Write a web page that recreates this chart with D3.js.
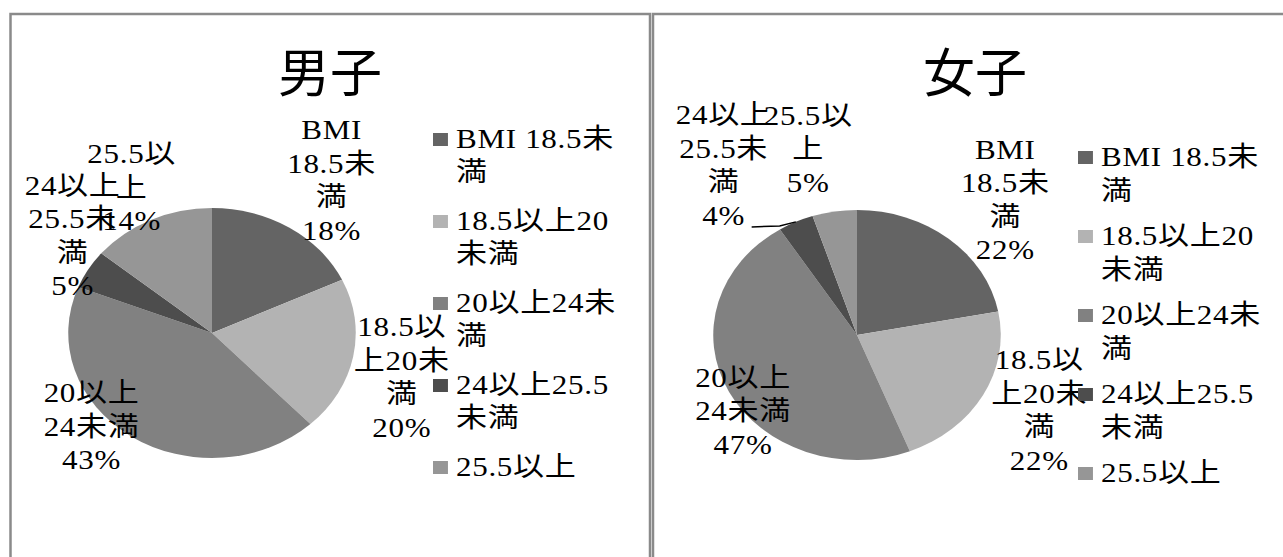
<!DOCTYPE html>
<html lang="ja">
<head>
<meta charset="UTF-8">
<title>BMI 男子・女子</title>
<script src="https://cdn.jsdelivr.net/npm/d3@7"></script>
<style>
  html, body { margin: 0; padding: 0; background: #fff; }
  svg { display: block; }
  text { font-family: "Liberation Serif", "Noto Sans CJK JP", serif; fill: #000; }
  .lbl { letter-spacing: 0.6px; }
</style>
</head>
<body>
<svg id="chart" width="1283" height="557"></svg>
<script>
// data
const categories = ["BMI 18.5未満", "18.5以上20未満", "20以上24未満", "24以上25.5未満", "25.5以上"];
const boysValues = [18, 20, 43, 5, 14];
const girlsValues = [22, 22, 47, 4, 5];
const titles = ["男子", "女子"];
// wrapped text as it appears in the picture
const legendLines = [["BMI 18.5未", "満"], ["18.5以上20", "未満"], ["20以上24未", "満"], ["24以上25.5", "未満"], ["25.5以上"]];
const labelLines = [["BMI", "18.5未", "満"], ["18.5以", "上20未", "満"], ["20以上", "24未満"], ["24以上", "25.5未", "満"], ["25.5以", "上"]];
const colors = ["#646464", "#b3b3b3", "#818181", "#4d4d4d", "#969696"];

// layout
const sx = 1.15;      // the picture is stretched horizontally
const R = 125;
const fs = 27, lh = 33.5;
const charts = [
  { title: titles[0], values: boysValues, panel: [10.5, 14, 650, 600], cx: 212, cy: 333, titleX: 330,
    legend: { x: 433, y: 148, step: 82, line: 33 },
    nudge: [[21, -18], [9, 14], [-17, -39], [19, -16], [-2, -1]], leader: -1 },
  { title: titles[1], values: girlsValues, panel: [653, 14, 1300, 600], cx: 857, cy: 335, titleX: 975,
    legend: { x: 1078, y: 166, step: 79, line: 34 },
    nudge: [[31, -12], [21, -2], [50, 3], [-55, -25], [-20, -28]], leader: 3 }
];

const svg = d3.select("#chart");
svg.append("rect").attr("width", 1283).attr("height", 557).attr("fill", "#fff");

const pie = d3.pie().sort(null).value(d => d);
const arc = d3.arc().innerRadius(0).outerRadius(R);
const labelArc = d3.arc().innerRadius(160).outerRadius(160);

charts.forEach(c => {
  // panel frame
  svg.append("path")
    .attr("d", `M${c.panel[0]},${c.panel[3]}V${c.panel[1]}H${c.panel[2]}V${c.panel[3]}`)
    .attr("fill", "none").attr("stroke", "#8a8a8a").attr("stroke-width", 2.5);

  // title
  svg.append("text")
    .attr("x", c.titleX).attr("y", 92)
    .attr("text-anchor", "middle")
    .style("font-size", "52px")
    .text(c.title);

  const arcs = pie(c.values);

  const g = svg.append("g").attr("transform", `translate(${c.cx},${c.cy}) scale(${sx},1)`);
  g.selectAll("path").data(arcs).join("path")
    .attr("d", arc)
    .attr("fill", (d, i) => colors[i]);

  // leader line
  if (c.leader >= 0) {
    const d = arcs[c.leader];
    const a = (d.startAngle + d.endAngle) / 2;
    const ex = c.cx + Math.sin(a) * R * sx, ey = c.cy - Math.cos(a) * R;
    const [lx, ly] = labelArc.centroid(d);
    const bx = c.cx + lx * sx + c.nudge[c.leader][0];
    const by = c.cy + ly + c.nudge[c.leader][1];
    const nl = labelLines[c.leader].length + 1;
    const lastBase = by - (nl - 1) * lh / 2 + (nl - 1) * lh + fs * 0.35;
    svg.append("path")
      .attr("d", d3.line()([[bx + 28, lastBase + 2], [bx + 56, lastBase + 1], [ex, ey]]))
      .attr("fill", "none").attr("stroke", "#000").attr("stroke-width", 1.5);
  }

  // data labels
  arcs.forEach((d, i) => {
    const [lx, ly] = labelArc.centroid(d);
    const x = c.cx + lx * sx + c.nudge[i][0];
    const y = c.cy + ly + c.nudge[i][1];
    const lines = labelLines[i].concat([d.data + "%"]);
    const t = svg.append("text")
      .attr("class", "lbl")
      .attr("transform", `translate(${x},${y}) scale(${sx},1)`)
      .attr("text-anchor", "middle")
      .style("font-size", fs + "px");
    lines.forEach((s, k) => {
      t.append("tspan")
        .attr("x", 0)
        .attr("y", -(lines.length - 1) * lh / 2 + k * lh + fs * 0.35)
        .text(s);
    });
  });

  // legend
  const lg = svg.append("g").attr("transform", `translate(${c.legend.x},${c.legend.y}) scale(${sx},1)`);
  categories.forEach((name, i) => {
    const item = lg.append("g").attr("transform", `translate(0,${i * c.legend.step})`);
    item.append("rect")
      .attr("x", 0).attr("y", -15).attr("width", 13).attr("height", 13)
      .attr("fill", colors[i]);
    const t = item.append("text").attr("class", "lbl").style("font-size", fs + "px").attr("data-name", name);
    legendLines[i].forEach((s, k) => {
      t.append("tspan").attr("x", 20).attr("y", k * c.legend.line).text(s);
    });
  });
});
</script>
</body>
</html>
